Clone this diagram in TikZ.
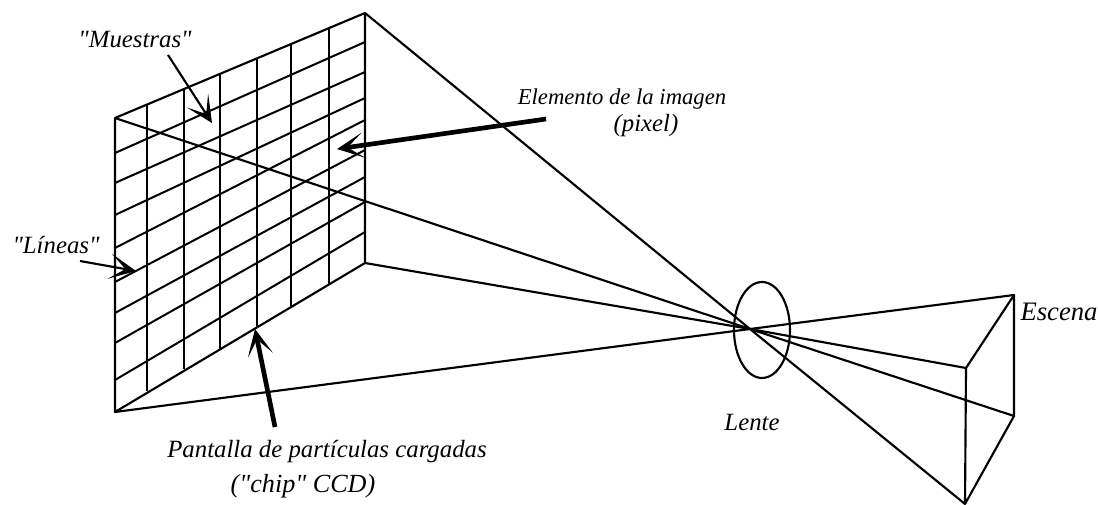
\documentclass[tikz,border=0pt]{standalone}
\usepackage{fontspec}
\setmainfont{Liberation Serif}[Ligatures=TeXOff]
\usetikzlibrary{arrows.meta,shapes.geometric}
\tikzset{
  wire/.style={line width=1.6pt,black},
  gridline/.style={line width=1.5pt,black},
  caption/.style={font=\fontsize{18.6}{22}\selectfont\itshape,anchor=base,inner sep=0pt},
  pointer/.style={-{Stealth[length=20pt,width=19pt,inset=12pt]},black},
}
\begin{document}
\begin{tikzpicture}[x=0.75pt,y=-0.75pt]
  \useasboundingbox (0,0) rectangle (1098,505);
  \coordinate (tl) at (115,118);
  \coordinate (tr) at (365,13);
  \coordinate (br) at (365,263);
  \coordinate (bl) at (115,412);
  \coordinate (focus) at (750,329);
  \coordinate (sa) at (1014,295);
  \coordinate (sb) at (966,368);
  \coordinate (sc) at (1014,416);
  \coordinate (sd) at (965,504);
  \node[draw,wire,ellipse,minimum width=42pt,minimum height=72pt,inner sep=0pt] (lens) at (762,330) {};
  \foreach \xa/\ya/\yb in {147/105/391,184/89/369,220/74/349,257/58/328,291/44/306,329/28/284}
    \draw[gridline] (\xa,\ya) -- (\xa,\yb);
  \foreach \ya/\yb in {153/42,183/72,215/98,248/120,282/150,313/177,343/202,380/232}
    \draw[gridline] (115,\ya) -- (365,\yb);
  \draw[wire,line join=round] (tl) -- (tr) -- (br) -- (bl) -- cycle;
  \draw[wire] (tr) -- (focus) -- (sd);
  \draw[wire] (tl) -- (focus) -- (sc);
  \draw[wire] (br) -- (focus) -- (sb);
  \draw[wire] (bl) -- (focus) -- (sa);
  \draw[wire,line join=round] (sa) -- (sb) -- (sd) -- (sc) -- cycle;
  \node[caption] (muestras) at (135,48) {"Muestras"};
  \node[caption] (lineas) at (56,254) {"Líneas"};
  \node[caption,font=\fontsize{17}{20}\selectfont\itshape] (elemento) at (622,105) {Elemento de la imagen};
  \node[caption] (pixel) at (646,132) {(pixel)};
  \node[caption] (pantalla) at (327,457) {Pantalla de partículas cargadas};
  \node[caption,font=\fontsize{19.6}{22}\selectfont\itshape] (chip) at (303,492) {("chip" CCD)};
  \node[caption] (lente) at (752,430) {Lente};
  \node[caption,font=\fontsize{20}{22}\selectfont\itshape] (escena) at (1059,321) {Escena};
  \coordinate (mfrom) at (168,55);
  \coordinate (mto) at (212,123);
  \coordinate (lfrom) at (80,261);
  \coordinate (lto) at (136,271);
  \coordinate (efrom) at (546,119);
  \coordinate (eto) at (337,149);
  \coordinate (pfrom) at (275,427);
  \coordinate (pto) at (255,329);
  \draw[pointer,line width=1.6pt] (mfrom) -- (mto);
  \draw[pointer,line width=1.6pt] (lfrom) -- (lto);
  \draw[pointer,line width=3.5pt] (efrom) -- (eto);
  \draw[pointer,line width=3.5pt] (pfrom) -- (pto);
\end{tikzpicture}
\end{document}
